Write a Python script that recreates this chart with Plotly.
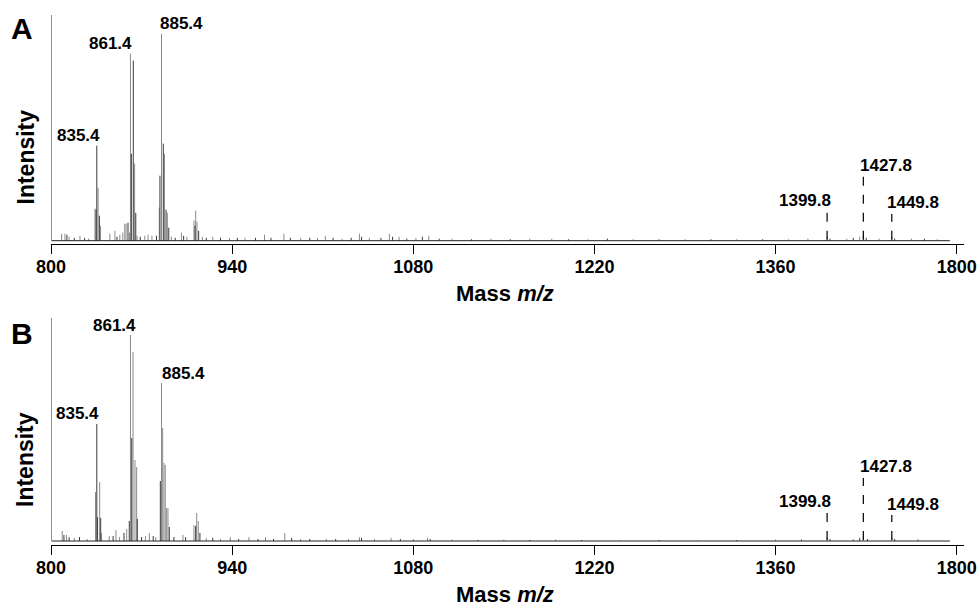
import plotly.graph_objects as go

# ---------------- data (m/z, relative intensity %) ----------------
# Panel A - gray sticks
A_gray_mz = [834.0, 836.4, 838.3, 858.0, 860.7, 861.4, 864.6, 883.7, 885.4, 887.7, 889.9,
             910.5, 911.8, 912.8,
             808.2, 810.8, 814.0, 822.4, 829.0, 845.5, 849.4, 853.2, 855.5, 857.0, 866.5,
             872.5, 875.0, 878.0, 893.0, 900.8, 905.0, 917.0, 925.0, 938.0, 950.0, 965.0,
             980.0, 993.0, 1006.0, 1012.0, 1025.0, 1038.4, 1046.0, 1061.5, 1069.0, 1082.0,
             1092.0, 1110.0, 1140.0, 1170.0, 1187.0, 1215.0, 1250.0, 1290.0, 1330.0, 1370.0,
             1385.0, 1399.8, 1415.0, 1425.0, 1427.8, 1440.0, 1449.8, 1465.0, 1485.0]
A_gray_int = [15.5, 25.6, 7.2, 8.2, 3.9, 90.3, 37.2, 16.0, 100.0, 42.0, 13.5,
              9.7, 14.5, 9.2,
              3.4, 3.4, 2.0, 2.4, 1.0, 3.4, 4.8, 2.9, 3.9, 8.2, 2.4,
              2.4, 2.9, 2.4, 1.9, 3.9, 1.9, 1.9, 1.9, 1.4, 1.4, 2.9,
              3.4, 1.4, 1.4, 2.4, 1.0, 3.4, 1.4, 3.4, 1.9, 1.4,
              2.4, 1.0, 1.0, 1.0, 1.0, 0.7, 0.7, 0.7, 0.7, 0.7,
              1.0, 1.9, 1.0, 1.9, 2.9, 1.0, 1.9, 1.0, 0.7]
# Panel A - dark sticks
A_dark_mz = [834.8, 835.4, 837.4, 859.5, 862.1, 863.6, 865.5, 884.2, 886.8, 888.9, 891.0,
             911.3, 914.1,
             812.3, 818.0, 826.0, 851.0, 869.0, 881.5, 896.0, 902.5, 920.0, 931.0, 944.0,
             958.0, 970.0, 985.0, 1000.0, 1018.0, 1032.0, 1040.0, 1055.0, 1064.0, 1075.0,
             1087.0, 1100.0, 1125.0, 1155.0, 1200.0, 1230.0, 1270.0, 1310.0, 1350.0,
             1402.0, 1420.0, 1430.0, 1452.0, 1475.0]
A_dark_int = [15.0, 45.9, 12.1, 8.7, 42.0, 87.0, 13.5, 31.4, 46.9, 15.0, 6.3,
              7.2, 4.8,
              2.9, 1.4, 1.4, 1.9, 1.9, 2.4, 1.4, 2.4, 1.4, 1.4, 1.4,
              1.4, 1.4, 1.4, 1.4, 1.4, 1.4, 1.9, 1.4, 1.9, 1.0,
              1.9, 1.0, 0.7, 0.7, 0.7, 1.0, 0.7, 0.7, 0.7,
              1.0, 1.4, 1.4, 1.0, 1.0]

# Panel B - gray sticks
B_gray_mz = [834.4, 837.6, 839.0, 850.2, 858.5, 861.4, 863.4, 864.9, 866.2, 885.4, 886.3,
             887.3, 888.3, 889.4, 890.4, 910.5, 912.6, 913.8,
             808.7, 812.0, 818.0, 828.0, 845.0, 853.0, 873.0, 876.0, 881.0, 902.0, 920.0,
             931.0, 938.6, 953.0, 965.8, 980.7, 993.0, 1012.7, 1030.0, 1038.4, 1050.0,
             1062.8, 1080.0, 1091.0, 1110.0, 1150.0, 1190.0, 1240.0, 1300.0, 1360.0,
             1399.8, 1420.0, 1427.8, 1449.8, 1470.0]
B_gray_int = [23.8, 28.6, 3.9, 5.3, 5.8, 100.0, 91.7, 39.3, 35.9, 76.7, 54.9,
              37.9, 36.9, 16.0, 16.0, 7.8, 13.6, 9.7,
              4.9, 2.9, 1.5, 1.0, 2.4, 1.9, 2.4, 3.9, 1.9, 2.9, 1.5,
              1.0, 1.9, 1.9, 1.9, 3.9, 1.0, 1.0, 1.0, 1.9, 1.0,
              1.5, 1.0, 1.5, 0.7, 0.7, 0.7, 0.5, 0.5, 0.7,
              1.9, 1.0, 2.4, 1.9, 1.0]
# Panel B - dark sticks
B_dark_mz = [835.4, 836.0, 838.4, 856.4, 860.5, 862.4, 866.7, 884.5, 891.4, 911.8, 915.1,
             810.0, 814.0, 822.0, 848.0, 870.0, 879.0, 895.0, 904.0, 925.0, 945.0, 960.0,
             972.0, 986.0, 1000.0, 1020.0, 1040.0, 1070.0, 1093.0, 1130.0, 1170.0, 1210.0,
             1270.0, 1330.0, 1380.0, 1402.0, 1425.0, 1431.0, 1452.0]
B_dark_int = [56.8, 11.6, 11.2, 3.9, 9.7, 50.0, 10.7, 29.1, 6.8, 7.3, 3.9,
              2.9, 1.9, 1.9, 2.4, 1.9, 2.4, 1.9, 1.9, 1.5, 1.0, 1.0,
              1.0, 1.5, 1.0, 1.0, 1.5, 1.0, 1.0, 0.5, 0.5, 0.5,
              0.5, 0.5, 0.7, 1.0, 1.5, 1.0, 1.0]

# labelled peaks
solid_labels = ["835.4", "861.4", "885.4"]
dashed_labels = ["1399.8", "1427.8", "1449.8"]
A_solid_mz = [835.4, 861.4, 885.4]
A_solid_int = [45.9, 90.3, 100.0]
B_solid_mz = [835.4, 861.4, 885.4]
B_solid_int = [56.8, 100.0, 76.7]
dashed_mz = [1399.8, 1427.8, 1449.8]
A_dashed_top = [14.0, 30.9, 12.9]
B_dashed_top = [13.6, 30.6, 12.6]

tick_vals = [800, 940, 1080, 1220, 1360, 1500]
tick_text = ["800", "940", "1080", "1220", "1360", "1800"]
spectrum_end = 1494.7

# ---------------- figure ----------------
W, H = 977, 606
FONT = "Liberation Sans, Arial, sans-serif"
GRAY = "#8a8a8a"
DARK = "#3a3a3a"


def sticks(mz, inten):
    xs, ys = [], []
    for m, v in zip(mz, inten):
        xs += [m, m, None]
        ys += [0, v, None]
    return xs, ys


fig = go.Figure()

panels = [
    dict(xa="x", ya="y", gm=A_gray_mz, gi=A_gray_int, dm=A_dark_mz, di=A_dark_int,
         smz=A_solid_mz, sint=A_solid_int, dtop=A_dashed_top,
         sshift=[-18, -20, 20], dshift=[-22, 23, 21], top=109.0),
    dict(xa="x2", ya="y2", gm=B_gray_mz, gi=B_gray_int, dm=B_dark_mz, di=B_dark_int,
         smz=B_solid_mz, sint=B_solid_int, dtop=B_dashed_top,
         sshift=[-19, -16, 22], dshift=[-22, 23, 21], top=108.25),
]

annotations = []
shapes = []
for p in panels:
    gx, gy = sticks(p["gm"], p["gi"])
    dx, dy = sticks(p["dm"], p["di"])
    fig.add_trace(go.Scatter(x=gx, y=gy, mode="lines", line=dict(color=GRAY, width=1),
                             xaxis=p["xa"], yaxis=p["ya"], hoverinfo="skip", showlegend=False))
    fig.add_trace(go.Scatter(x=dx, y=dy, mode="lines", line=dict(color=DARK, width=1),
                             xaxis=p["xa"], yaxis=p["ya"], hoverinfo="skip", showlegend=False))
    fig.add_trace(go.Scatter(x=[800.5, spectrum_end], y=[0, 0], mode="lines",
                             line=dict(color="#222222", width=1),
                             xaxis=p["xa"], yaxis=p["ya"], hoverinfo="skip", showlegend=False))
    # vertical intensity axis line
    shapes.append(dict(type="line", xref=p["xa"], yref=p["ya"], x0=800, x1=800,
                       y0=0, y1=p["top"], line=dict(color="#222222", width=1)))
    for lab, m, v, sh in zip(solid_labels, p["smz"], p["sint"], p["sshift"]):
        annotations.append(dict(x=m, y=v, xref=p["xa"], yref=p["ya"], text="<b>%s</b>" % lab,
                                showarrow=False, xanchor="center", yanchor="middle",
                                xshift=sh, yshift=10, font=dict(family=FONT, size=17, color="black")))
    for lab, m, v, sh in zip(dashed_labels, dashed_mz, p["dtop"], p["dshift"]):
        shapes.append(dict(type="line", xref=p["xa"], yref=p["ya"], x0=m, x1=m, y0=0.5, y1=v,
                           line=dict(color="black", width=1.2, dash="dash")))
        annotations.append(dict(x=m, y=v, xref=p["xa"], yref=p["ya"], text="<b>%s</b>" % lab,
                                showarrow=False, xanchor="center", yanchor="middle",
                                xshift=sh, yshift=11, font=dict(family=FONT, size=17, color="black")))

# panel letters, axis titles
for letter, ly, ty, iy in [("A", 1 - 28 / H, 1 - 293 / H, 1 - 157.5 / H),
                           ("B", 1 - 333 / H, 1 - 594 / H, 1 - 460 / H)]:
    annotations.append(dict(x=21.5 / W, y=ly, xref="paper", yref="paper", text="<b>%s</b>" % letter,
                            showarrow=False, xanchor="center", yanchor="middle",
                            font=dict(family=FONT, size=30, color="black")))
    annotations.append(dict(x=505 / W, y=ty, xref="paper", yref="paper",
                            text="<b>Mass <i>m/z</i></b>", showarrow=False,
                            xanchor="center", yanchor="middle",
                            font=dict(family=FONT, size=22, color="black")))
    annotations.append(dict(x=25 / W, y=iy, xref="paper", yref="paper", text="<b>Intensity</b>",
                            textangle=-90, showarrow=False, xanchor="center", yanchor="middle",
                            font=dict(family=FONT, size=23, color="black")))

xdom = [51 / W, 964 / W]
xr = [800, 1505.6]
xcommon = dict(range=xr, domain=xdom, showline=True, linecolor="black", linewidth=1.3,
               ticks="outside", ticklen=9, tickwidth=1.3, tickcolor="black", automargin=False,
               tickvals=tick_vals, ticktext=tick_text, showgrid=False, zeroline=False,
               ticklabelstandoff=-3,
               tickfont=dict(family=FONT, size=18, color="black", weight="bold"))
ycommon = dict(showline=False, showticklabels=False, ticks="", showgrid=False, zeroline=False,
               automargin=False)

fig.update_layout(
    template="none",
    width=W, height=H, autosize=False, margin=dict(l=0, r=0, t=0, b=0, pad=0),
    paper_bgcolor="white", plot_bgcolor="white",
    xaxis=dict(anchor="y", **xcommon),
    xaxis2=dict(anchor="y2", **xcommon),
    yaxis=dict(domain=[1 - 244.3 / H, 1 - 15 / H], range=[-1.74, 109.03], anchor="x", **ycommon),
    yaxis2=dict(domain=[1 - 545 / H, 1 - 318 / H], range=[-1.94, 108.25], anchor="x2", **ycommon),
    annotations=annotations, shapes=shapes,
)

post = ("document.body.style.margin='0';document.body.style.padding='0';"
        "document.body.style.overflow='hidden';")
fig.write_html("out.html", post_script=post,
               config={"responsive": False, "displayModeBar": False})
